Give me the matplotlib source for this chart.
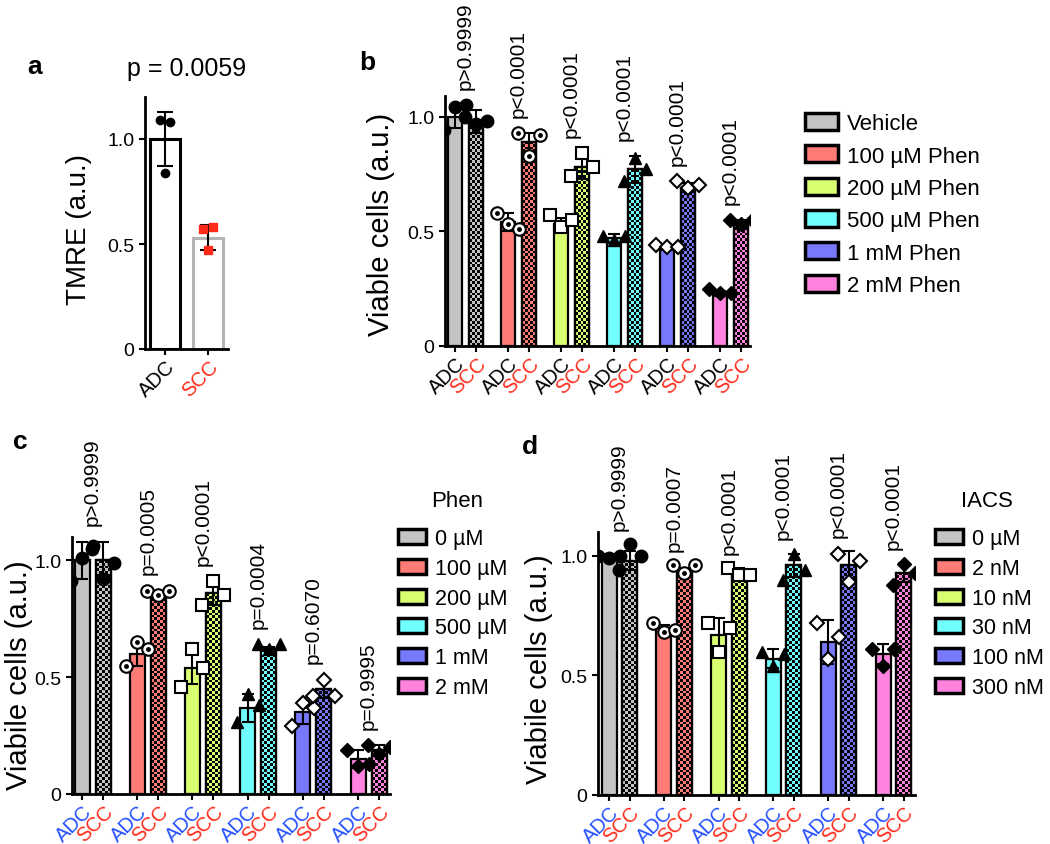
import matplotlib
matplotlib.use("Agg")
import matplotlib.pyplot as plt
import numpy as np
from matplotlib.colors import ListedColormap
from matplotlib.patches import Patch

plt.rcParams['font.family'] = ['Liberation Sans', 'DejaVu Sans']

W, H = 1050, 845

# ---- data ----
# panel a
a_groups = ["ADC", "SCC"]
a_mean = [1.00, 0.53]
a_sd = [0.13, 0.06]
a_pts = [[1.09, 1.08, 0.84], [0.57, 0.58, 0.47]]

# panel b
b_labels = ["Vehicle", "100 µM Phen", "200 µM Phen", "500 µM Phen", "1 mM Phen", "2 mM Phen"]
b_adc = [1.00, 0.54, 0.53, 0.47, 0.43, 0.23]
b_scc = [0.98, 0.89, 0.78, 0.77, 0.69, 0.53]
b_adc_sd = [0.05, 0.04, 0.03, 0.02, 0.01, 0.01]
b_scc_sd = [0.05, 0.04, 0.05, 0.06, 0.02, 0.02]
b_adc_pts = [[0.94, 1.04, 1.05], [0.58, 0.53, 0.51], [0.57, 0.52, 0.55],
             [0.48, 0.46, 0.48], [0.44, 0.43, 0.43], [0.25, 0.23, 0.23]]
b_scc_pts = [[1.00, 0.97, 0.98], [0.93, 0.83, 0.92], [0.74, 0.84, 0.78],
             [0.72, 0.82, 0.77], [0.72, 0.69, 0.70], [0.55, 0.53, 0.55]]
b_p = ["p>0.9999", "p<0.0001", "p<0.0001", "p<0.0001", "p<0.0001", "p<0.0001"]

# panel c
c_labels = ["0 µM", "100 µM", "200 µM", "500 µM", "1 mM", "2 mM"]
c_adc = [1.00, 0.60, 0.54, 0.37, 0.35, 0.15]
c_scc = [1.00, 0.85, 0.86, 0.62, 0.45, 0.19]
c_adc_sd = [0.08, 0.05, 0.07, 0.06, 0.05, 0.04]
c_scc_sd = [0.08, 0.02, 0.05, 0.01, 0.04, 0.02]
c_adc_pts = [[0.91, 1.01, 1.06], [0.55, 0.65, 0.62], [0.46, 0.62, 0.54],
             [0.31, 0.43, 0.38], [0.29, 0.39, 0.37], [0.19, 0.12, 0.13]]
c_scc_pts = [[1.05, 0.92, 0.99], [0.87, 0.85, 0.87], [0.81, 0.91, 0.85],
             [0.64, 0.62, 0.64], [0.42, 0.49, 0.42], [0.21, 0.17, 0.20]]
c_p = ["p>0.9999", "p=0.0005", "p<0.0001", "p=0.0004", "p=0.6070", "p=0.9995"]

# panel d
d_labels = ["0 µM", "2 nM", "10 nM", "30 nM", "100 nM", "300 nM"]
d_adc = [1.00, 0.70, 0.67, 0.57, 0.64, 0.59]
d_scc = [0.98, 0.93, 0.93, 0.96, 0.96, 0.93]
d_adc_sd = [0.01, 0.01, 0.07, 0.04, 0.09, 0.04]
d_scc_sd = [0.04, 0.02, 0.02, 0.05, 0.06, 0.04]
d_adc_pts = [[1.00, 0.99, 1.00], [0.72, 0.68, 0.69], [0.72, 0.60, 0.70],
             [0.60, 0.54, 0.59], [0.72, 0.57, 0.66], [0.61, 0.54, 0.61]]
d_scc_pts = [[0.94, 1.05, 1.00], [0.96, 0.93, 0.96], [0.95, 0.92, 0.92],
             [0.90, 1.01, 0.94], [1.01, 0.89, 0.98], [0.88, 0.965, 0.93]]
d_p = ["p>0.9999", "p=0.0007", "p<0.0001", "p<0.0001", "p<0.0001", "p<0.0001"]

colors = ["#c4c4c4", "#ff7b76", "#d8ff70", "#70ffff", "#7878fa", "#ff82de"]
markers = ["o", "circdot", "s", "^", "Dopen", "D"]

fig = plt.figure(figsize=(W / 100, H / 100), dpi=100)


def add_box(x0, y0, x1, y1):
    return fig.add_axes([x0 / W, 1 - y1 / H, (x1 - x0) / W, (y1 - y0) / H])


def style(ax):
    for s in ["top", "right"]:
        ax.spines[s].set_visible(False)
    for s in ["left", "bottom"]:
        ax.spines[s].set_linewidth(2)
    ax.tick_params(direction="out", length=4, width=1.5, labelsize=14)
    ax.tick_params(axis="x", pad=1)
    ax.set_yticks([0, 0.5, 1.0])
    ax.set_yticklabels(["0", "0.5", "1.0"])


def draw_pts(ax, xc, vals, mk, spread):
    xs = xc + np.array([-1, 0, 1]) * spread
    if mk == "circdot":
        ax.plot(xs, vals, "o", ms=9, mfc="white", mec="black", mew=1.5, ls="none", zorder=4)
        ax.plot(xs, vals, "o", ms=2.5, mfc="black", mec="black", ls="none", zorder=5)
    elif mk == "s":
        ax.plot(xs, vals, "s", ms=9, mfc="white", mec="black", mew=1.5, ls="none", zorder=4)
    elif mk == "Dopen":
        ax.plot(xs, vals, "D", ms=7.5, mfc="white", mec="black", mew=1.5, ls="none", zorder=4)
    elif mk == "D":
        ax.plot(xs, vals, "D", ms=7.5, color="black", ls="none", zorder=4)
    else:
        ax.plot(xs, vals, mk, ms=9, color="black", ls="none", zorder=4)


def checker(ax, bar, color, px_x, px_y, cell=2.8):
    x0, w, h = bar.get_x(), bar.get_width(), bar.get_height()
    nx = max(1, int(round(w * px_x / cell)))
    ny = max(1, int(round(h * px_y / cell)))
    arr = np.indices((ny, nx)).sum(axis=0) % 2
    im = ax.imshow(arr, extent=(x0, x0 + w, 0, h), origin="lower",
                   cmap=ListedColormap([color, "black"]), vmin=0, vmax=1,
                   interpolation="nearest", aspect="auto", zorder=2.05)
    im.set_clip_path(bar)


def grouped(box, first_px, step_px, off_px, width_px, ytop,
            adc, scc, adc_sd, scc_sd, adc_pts, scc_pts, pvals, adc_col, p_off):
    x0, y0, x1, y1 = box
    ax = add_box(*box)
    style(ax)
    left = -(first_px - x0) / step_px
    right = left + (x1 - x0) / step_px
    off = off_px / step_px
    w = width_px / step_px
    px_x = step_px
    px_y = (y1 - y0) / ytop
    n = len(adc)
    xa = np.arange(n)
    xs = xa + off
    ax.bar(xa, adc, width=w, color=colors, edgecolor="black", linewidth=1.6, zorder=2)
    sbars = ax.bar(xs, scc, width=w, color=colors, edgecolor="black", linewidth=1.6, zorder=2)
    for bar, col in zip(sbars, colors):
        checker(ax, bar, col, px_x, px_y)
    ax.bar(xs, scc, width=w, facecolor="none", edgecolor="black", linewidth=1.6, zorder=2.1)
    ax.errorbar(xa, adc, yerr=adc_sd, fmt="none", ecolor="black", elinewidth=1.5,
                capsize=4, capthick=1.5, zorder=3)
    ax.errorbar(xs, scc, yerr=scc_sd, fmt="none", ecolor="black", elinewidth=1.5,
                capsize=4, capthick=1.5, zorder=3)
    spread = 11 / step_px
    for i in range(n):
        draw_pts(ax, xa[i], adc_pts[i], markers[i], spread)
        draw_pts(ax, xs[i], scc_pts[i], markers[i], spread)
        top = max(max(adc_pts[i]), max(scc_pts[i]), adc[i] + adc_sd[i], scc[i] + scc_sd[i])
        ax.text(xa[i] + off / 2, top + p_off, pvals[i], rotation=90, ha="center",
                va="bottom", fontsize=15, clip_on=False)
    ticks = np.ravel(np.column_stack([xa, xs]))
    ax.set_xticks(ticks)
    ax.set_xticklabels(["ADC", "SCC"] * n, rotation=45, ha="right", va="top",
                       rotation_mode="anchor", fontsize=14.5)
    for k, t in enumerate(ax.get_xticklabels()):
        t.set_color(adc_col if k % 2 == 0 else "#ff2a1a")
    ax.set_xlim(left, right)
    ax.set_ylim(0, ytop)
    return ax


def legend(handles, labels, x_px, y_px, fs, hl, hh, ls):
    fig.legend(handles, labels, loc="upper left", bbox_to_anchor=(x_px / W, 1 - y_px / H),
               frameon=False, fontsize=fs, handlelength=hl, handleheight=hh,
               handletextpad=0.4, labelspacing=ls, borderpad=0, borderaxespad=0)


# ---- panel a ----
axa = add_box(145, 98, 228, 350)
style(axa)
xa = np.arange(2)
axa.bar(xa, a_mean, width=0.7, facecolor="white", edgecolor=["black", "#b4b4b4"],
        linewidth=2.2, zorder=2)
axa.errorbar(xa, a_mean, yerr=a_sd, fmt="none", ecolor="black", elinewidth=1.5,
             capsize=6, capthick=1.5, zorder=3)
axa.plot(xa[0] + np.array([-0.12, 0.12, 0.0]), a_pts[0], "o", ms=6, color="black", zorder=4)
axa.plot(xa[1] + np.array([-0.12, 0.12, 0.0]), a_pts[1], "s", ms=6, color="#ff2a1a", zorder=4)
axa.set_xticks(xa)
axa.set_xticklabels(a_groups, rotation=45, ha="right", va="top", rotation_mode="anchor",
                    fontsize=14.5)
axa.get_xticklabels()[1].set_color("#ff2a1a")
axa.set_xlim(-0.465, 1.465)
axa.set_ylim(0, 1.2)
axa.set_ylabel("TMRE (a.u.)", fontsize=20)
axa.yaxis.set_label_coords(-0.64, 0.48)
axa.set_title("p = 0.0059", fontsize=18, pad=16)
fig.text(35 / W, 1 - 67 / H, "a", fontsize=19, fontweight="bold", ha="center", va="center")

# ---- panel b ----
axb = grouped((445, 97, 750, 347), 455, 53, 21, 14, 1.09,
              b_adc, b_scc, b_adc_sd, b_scc_sd, b_adc_pts, b_scc_pts, b_p, "black", 0.07)
axb.set_ylabel("Viable cells (a.u.)", fontsize=21)
axb.yaxis.set_label_coords(-0.164, 0.49)
fig.text(367 / W, 1 - 63 / H, "b", fontsize=19, fontweight="bold", ha="center", va="center")
hb = [Patch(facecolor=c, edgecolor="black", linewidth=2.5) for c in colors]
legend(hb, b_labels, 805, 114, 16, 1.5, 0.8, 0.5)

# ---- panel c ----
axc = grouped((72, 538, 390, 795), 82, 55.2, 21, 15, 1.10,
              c_adc, c_scc, c_adc_sd, c_scc_sd, c_adc_pts, c_scc_pts, c_p, "#2450ff", 0.07)
axc.set_ylabel("Viabile cells (a.u.)", fontsize=21)
axc.yaxis.set_label_coords(-0.123, 0.467)
fig.text(20 / W, 1 - 442 / H, "c", fontsize=19, fontweight="bold", ha="center", va="center")
hc = [Patch(facecolor=c, edgecolor="black", linewidth=2.5) for c in colors]
legend(hc, c_labels, 398, 529, 15.5, 1.3, 0.7, 0.41)
fig.text(457 / W, 1 - 502 / H, "Phen", fontsize=16, ha="center", va="center")

# ---- panel d ----
axd = grouped((598, 533, 915, 796), 609, 54.8, 20.5, 15, 1.10,
              d_adc, d_scc, d_adc_sd, d_scc_sd, d_adc_pts, d_scc_pts, d_p, "#2450ff", 0.06)
axd.set_ylabel("Viabile cells (a.u.)", fontsize=21)
axd.yaxis.set_label_coords(-0.142, 0.483)
fig.text(530 / W, 1 - 447 / H, "d", fontsize=19, fontweight="bold", ha="center", va="center")
hd = [Patch(facecolor=c, edgecolor="black", linewidth=2.5) for c in colors]
legend(hd, d_labels, 935, 529, 15.5, 1.3, 0.7, 0.41)
fig.text(987 / W, 1 - 502 / H, "IACS", fontsize=16, ha="center", va="center")

fig.savefig("out.png", dpi=100)
